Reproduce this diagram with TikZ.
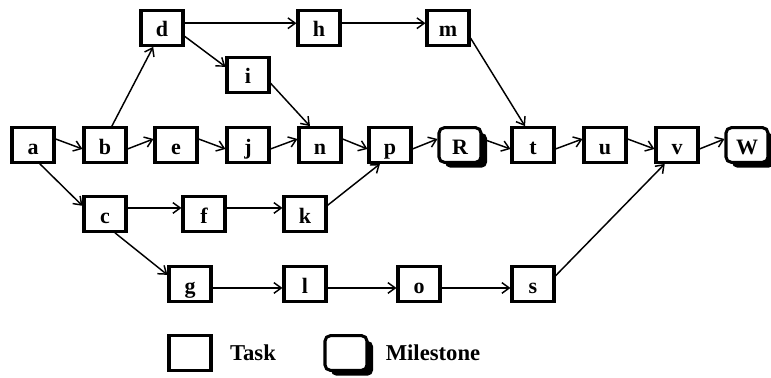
\documentclass[tikz,border=0pt]{standalone}
\usepackage{fontspec}
\setmainfont{Liberation Serif}
\usetikzlibrary{arrows.meta,shadows}

\begin{document}
\begin{tikzpicture}[x=0.75pt,y=-0.75pt,
    task/.style={draw,line width=2.3pt,minimum width=31.5pt,minimum height=26pt,
      inner sep=0pt,text height=15.5pt,text depth=2pt,fill=white,
      font=\fontsize{16.5}{18}\selectfont\bfseries},
    milestone/.style={task,rounded corners=4pt,
      drop shadow={shadow xshift=4.5pt,shadow yshift=-4pt,opacity=1,fill=black}},
    legendtext/.style={font=\fontsize{17}{19}\selectfont\bfseries}]

        \useasboundingbox (0,0) rectangle (771,378);

        \begin{scope}[every node/.style={task}]
          \node (a) at (33,145)  {a};
          \node (b) at (105,145) {b};
          \node (c) at (105,214) {c};
          \node (d) at (162,28)  {d};
          \node (e) at (176,145) {e};
          \node (f) at (204,214) {f};
          \node (g) at (190,284) {g};
          \node (h) at (319,28)  {h};
          \node (i) at (248,75)  {i};
          \node (j) at (248,145) {j};
          \node (k) at (305,214) {k};
          \node (l) at (305,284) {l};
          \node (m) at (448,28)  {m};
          \node (n) at (320,145) {n};
          \node (o) at (419,284) {o};
          \node (p) at (390,145) {p};
          \node (s) at (533,284) {s};
          \node (t) at (533,145) {t};
          \node (u) at (605,145) {u};
          \node (v) at (677,145) {v};
        \end{scope}

        \begin{scope}[every node/.style={milestone}]
          \node (R) at (460,145) {R};
          \node (W) at (747,145) {W};
        \end{scope}

        \begin{scope}[every edge/.style={draw,line width=1.1pt,
            -{Straight Barb[length=5.5pt,width=8pt]}}]
          \path (a.15)  edge (b.190);
          \path (a.-70) edge (c.160);
          \path (b.70)  edge (d.-115);
          \path (b.-10) edge (e.165);
          \path (e.15)  edge (j.190);
          \path (j.-10) edge (n.165);
          \path (n.15)  edge (p.190);
          \path (d.12)  edge (h.168);
          \path (d.-20) edge (i.160);
          \path (i.-20) edge (n.118);
          \path (h.12)  edge (m.168);
          \path (m.-24) edge (t.113);
          \path (p.-10) edge (R.165);
          \path (R.15)  edge (t.190);
          \path (t.-10) edge (u.165);
          \path (u.15)  edge (v.190);
          \path (v.-10) edge (W.165);
          \path (c.15)  edge (f.165);
          \path (f.15)  edge (k.165);
          \path (k.21)  edge (p.242);
          \path (c.-62) edge (g.158);
          \path (g.-10) edge (l.190);
          \path (l.-10) edge (o.190);
          \path (o.-10) edge (s.190);
          \path (s.20)  edge (v.237);
        \end{scope}

        % legend
        \node[task] (tasklegend) at (190,353) {};
        \node[legendtext] (tasktext) at (253,353) {Task};
        \node[milestone] (milelegend) at (346,353) {};
        \node[legendtext] (miletext) at (433,353) {Milestone};

      \end{tikzpicture}
\end{document}
